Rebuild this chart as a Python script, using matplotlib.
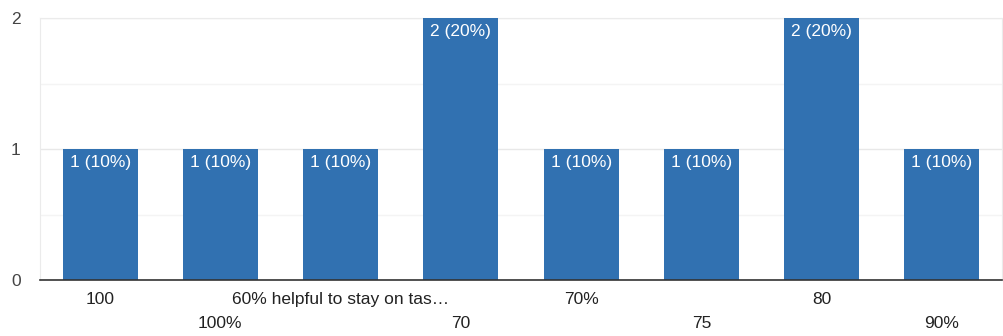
import matplotlib.pyplot as plt
from matplotlib.ticker import MultipleLocator

# Chart data
categories = ["100", "100%", "60% helpful to stay on tas\u2026", "70", "70%", "75", "80", "90%"]
counts = [1, 1, 1, 2, 1, 1, 2, 1]
percents = [10, 10, 10, 20, 10, 10, 20, 10]

plt.rcParams["font.family"] = ["Liberation Sans", "DejaVu Sans"]

fig = plt.figure(figsize=(10.04, 3.36), dpi=100)
ax = fig.add_axes([40 / 1004, 56 / 336, 962 / 1004, 262 / 336])

x = list(range(len(categories)))
bars = ax.bar(x, counts, width=0.625, color="#3171b1", zorder=3)

ax.set_xlim(-0.5, len(categories) - 0.5)
ax.set_ylim(0, 2)
ax.yaxis.set_major_locator(MultipleLocator(1))
ax.yaxis.set_minor_locator(MultipleLocator(0.5))
ax.grid(axis="y", which="major", color="#e8e8e8", linewidth=1, zorder=0)
ax.grid(axis="y", which="minor", color="#f4f4f4", linewidth=1, zorder=0)

for side in ("top", "right", "left"):
    ax.spines[side].set_color("#ebebeb")
ax.spines["bottom"].set_color("#333333")
ax.spines["bottom"].set_linewidth(1.2)
ax.spines["bottom"].set_zorder(4)

ax.tick_params(axis="y", which="both", length=0, pad=14, labelsize=12.5, labelcolor="#444444")
ax.tick_params(axis="x", length=0)
ax.set_xticks(x)
ax.set_xticklabels([])

# Alternating two-row category labels
for i, label in enumerate(categories):
    y_off = -0.075 if i % 2 == 0 else -0.165
    ax.text(i, y_off, label, transform=ax.get_xaxis_transform(),
            ha="center", va="center", fontsize=12.5, color="#222222")

# Value labels inside the top of each bar
for bar, c, p in zip(bars, counts, percents):
    ax.annotate(f"{c} ({p}%)", (bar.get_x() + bar.get_width() / 2, bar.get_height()),
                xytext=(0, -4.5), textcoords="offset points",
                ha="center", va="top", fontsize=12.5, color="white", zorder=5)

fig.savefig("out.png", dpi=100)
plt.close(fig)
